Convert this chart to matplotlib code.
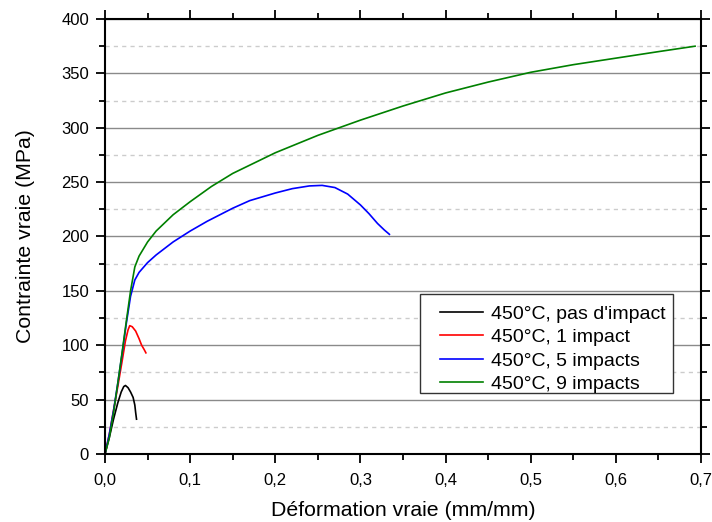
import numpy as np
import matplotlib.pyplot as plt
from matplotlib.patches import Rectangle
from matplotlib.ticker import MultipleLocator, FuncFormatter

plt.rcParams['font.family'] = ['Liberation Sans', 'DejaVu Sans']

# 450°C, pas d'impact
x_none = [0.0, 0.005, 0.010, 0.015, 0.019, 0.022, 0.024, 0.027, 0.030, 0.033, 0.035, 0.036, 0.037]
y_none = [0.0, 15, 32, 47, 57, 62, 63, 61, 57, 52, 45, 38, 32]

# 450°C, 1 impact
x_one = [0.0, 0.005, 0.010, 0.015, 0.020, 0.024, 0.027, 0.029, 0.032, 0.036, 0.040, 0.043, 0.046, 0.048]
y_one = [0.0, 18, 40, 62, 85, 104, 114, 118, 117, 113, 106, 100, 96, 93]

# 450°C, 5 impacts
x_five = [0.0, 0.005, 0.010, 0.015, 0.020, 0.025, 0.030, 0.035, 0.040, 0.050, 0.060, 0.080,
          0.100, 0.120, 0.150, 0.170, 0.200, 0.220, 0.240, 0.255, 0.270, 0.285, 0.300,
          0.310, 0.320, 0.328, 0.334]
y_five = [0.0, 18, 40, 65, 92, 120, 145, 160, 167, 176, 183, 195, 205, 214, 226, 233, 240, 244,
          246.5, 247, 245, 239, 229, 221, 212, 206, 202]

# 450°C, 9 impacts
x_nine = [0.0, 0.005, 0.010, 0.015, 0.020, 0.025, 0.030, 0.035, 0.040, 0.050, 0.060, 0.080,
          0.100, 0.125, 0.150, 0.200, 0.250, 0.300, 0.350, 0.400, 0.450, 0.500, 0.550,
          0.600, 0.650, 0.693]
y_nine = [0.0, 15, 38, 65, 93, 122, 150, 172, 182, 195, 205, 220, 232, 246, 258, 277, 293, 307,
          320, 332, 342, 351, 358, 364, 370, 375]

series = [
    (x_none, y_none, 'black', "450°C, pas d'impact"),
    (x_one, y_one, 'red', '450°C, 1 impact'),
    (x_five, y_five, 'blue', '450°C, 5 impacts'),
    (x_nine, y_nine, 'green', '450°C, 9 impacts'),
]

fig = plt.figure(figsize=(7.12, 5.22), dpi=100)
ax = fig.add_axes([0.1475, 0.1303, 0.8371, 0.8333])

for x, y, c, lab in series:
    ax.plot(x, y, color=c, linewidth=1.2, label=lab)

ax.set_xlim(0, 0.7)
ax.set_ylim(0, 400)
ax.xaxis.set_major_locator(MultipleLocator(0.1))
ax.xaxis.set_minor_locator(MultipleLocator(0.05))
ax.yaxis.set_major_locator(MultipleLocator(50))
ax.yaxis.set_minor_locator(MultipleLocator(25))
ax.xaxis.set_major_formatter(FuncFormatter(lambda v, p: f'{v:.1f}'.replace('.', ',')))
ax.yaxis.set_major_formatter(FuncFormatter(lambda v, p: f'{v:.0f}'))

ax.grid(True, which='major', axis='y', color='#8a8a8a', linewidth=1.0, linestyle='-')
ax.grid(True, which='minor', axis='y', color='#cccccc', linewidth=1.0, linestyle=(0, (3, 3)))
ax.set_axisbelow(True)

ax.tick_params(which='both', direction='out', top=True, right=True, width=1.3, labelsize=12)
ax.tick_params(which='major', length=6.5)
ax.tick_params(which='minor', length=4)
ax.tick_params(axis='x', which='major', pad=7.5)
ax.tick_params(axis='y', which='major', pad=5)
for s in ax.spines.values():
    s.set_linewidth(1.5)

ax.set_xlabel('Déformation vraie (mm/mm)', fontsize=15.3, labelpad=9)
ax.set_ylabel('Contrainte vraie (MPa)', fontsize=15.3, labelpad=19)

# legend frame drawn separately (wider horizontal padding than matplotlib's own)
ax.add_patch(Rectangle((0.5285, 0.140), 0.4245, 0.228, transform=ax.transAxes,
                       facecolor='white', edgecolor='#333333', linewidth=1.0, zorder=4))
leg = ax.legend(loc='upper left', bbox_to_anchor=(0.562, 0.342), fontsize=14,
                frameon=False, handlelength=2.2, labelspacing=0.3, borderpad=0,
                handletextpad=0.4, borderaxespad=0)
leg.set_zorder(5)

fig.savefig('out.png', dpi=100)
